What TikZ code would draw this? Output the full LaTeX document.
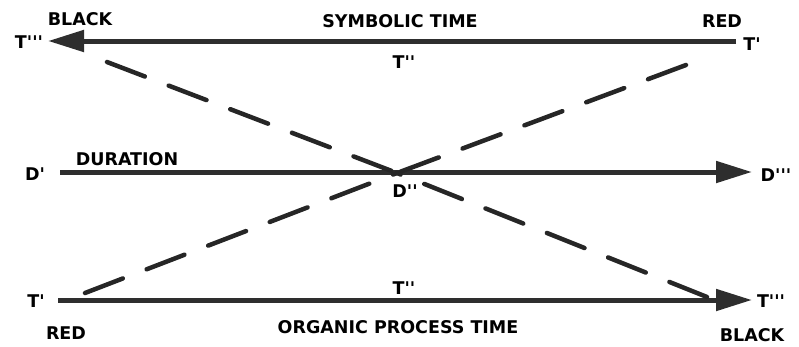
\documentclass[tikz,border=0pt]{standalone}
\usepackage{fontspec}
\setmainfont{DejaVu Sans}
\newfontfamily\lblfont{DejaVu Sans}[Ligatures=TeXOff]
\usetikzlibrary{arrows.meta}
\definecolor{ink}{gray}{0.18}
\begin{document}
\begin{tikzpicture}[x=1pt,y=-1pt,
  lbl/.style={font=\lblfont\bfseries\fontsize{17.5}{20}\selectfont, text=black, inner sep=0pt},
  mainline/.style={line width=5pt, draw=ink, -{Triangle[length=36pt,width=21pt]}},
  dashline/.style={line width=4.5pt, draw=black!85, line cap=round, dash pattern=on 40.5pt off 25.5pt}]
\useasboundingbox (0,0) rectangle (799,346);
% endpoints
\coordinate (topS) at (736,41);
\coordinate (topE) at (48,41);
\coordinate (midS) at (60,172);
\coordinate (midE) at (752,172);
\coordinate (botS) at (58,300);
\coordinate (botE) at (752,300);
\coordinate (C) at (397,173);
\coordinate (dTL) at (107,62);
\coordinate (dTR) at (686,65);
\coordinate (dBL) at (85,293);
\coordinate (dBR) at (707,297);
% main arrows
\draw[mainline] (topS) -- (topE);
\draw[mainline] (midS) -- (midE);
\draw[mainline] (botS) -- (botE);
% dashed lines
\draw[dashline] (dTL) -- (C);
\draw[dashline] (dTR) -- (C);
\draw[dashline] (dBL) -- (C);
\draw[dashline] (dBR) -- (C);
% labels
\node[lbl] (blackT) at (80,19) {BLACK};
\node[lbl] (tTL) at (29,42) {T'''};
\node[lbl] (sym) at (400,21) {SYMBOLIC TIME};
\node[lbl] (redT) at (722,21) {RED};
\node[lbl] (tTR) at (752,44) {T'};
\node[lbl] (tTM) at (404,62) {T''};
\node[lbl] (dL) at (35,174) {D'};
\node[lbl] (dur) at (127,159) {DURATION};
\node[lbl] (dM) at (405,191) {D''};
\node[lbl] (dR) at (776,175) {D'''};
\node[lbl] (tBL) at (36,301) {T'};
\node[lbl] (redB) at (66,333) {RED};
\node[lbl] (tBM) at (404,288) {T''};
\node[lbl] (org) at (398,327) {ORGANIC PROCESS TIME};
\node[lbl] (tBR) at (771,301) {T'''};
\node[lbl] (blackB) at (752,335) {BLACK};
\end{tikzpicture}
\end{document}
